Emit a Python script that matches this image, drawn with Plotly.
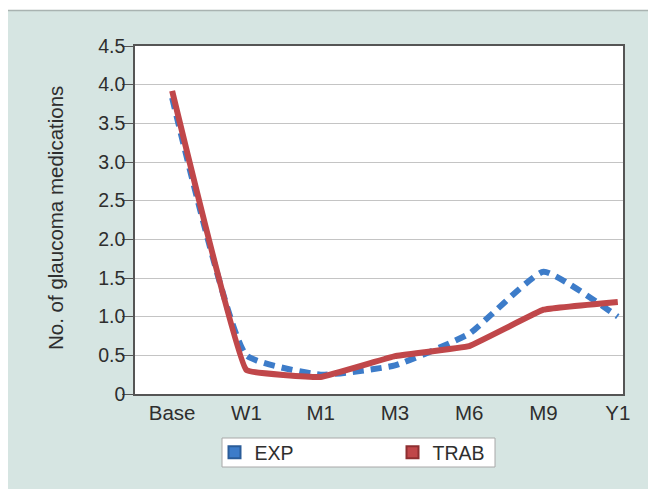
import plotly.graph_objects as go

categories = ["Base", "W1", "M1", "M3", "M6", "M9", "Y1"]
exp_values = [3.83, 0.50, 0.25, 0.37, 0.78, 1.58, 1.00]
trab_values = [3.92, 0.31, 0.22, 0.49, 0.62, 1.09, 1.19]
y_tickvals = [0, 0.5, 1.0, 1.5, 2.0, 2.5, 3.0, 3.5, 4.0, 4.5]
y_ticktext = ["0", "0.5", "1.0", "1.5", "2.0", "2.5", "3.0", "3.5", "4.0", "4.5"]

BLUE = "#3d7cc9"
RED = "#c0474a"
PANEL = "#d6e5e2"
FONT = "Liberation Sans, Arial, sans-serif"
TXT = "#2e2e2e"

# page body has an 8px margin; figure is sized to fit the window
OFF = 8
W, H = 656 - OFF, 489 - OFF
SL, ST, SR, SB = 135, 46, 623, 394          # plot area in window pixels
L, T = SL - OFF, ST - OFF
R, B = W - (SR - OFF), H - (SB - OFF)
pw, ph = SR - SL, SB - ST


def px(sx):
    return (sx - SL) / pw


def py(sy):
    return (SB - sy) / ph


fig = go.Figure()
fig.add_trace(go.Scatter(x=categories, y=exp_values, mode="lines", name="EXP",
                         line=dict(color=BLUE, width=6, dash="11px,7px", shape="spline", smoothing=0.4),
                         showlegend=False))
fig.add_trace(go.Scatter(x=categories, y=trab_values, mode="lines", name="TRAB",
                         line=dict(color=RED, width=6, shape="spline", smoothing=0.2),
                         showlegend=False))
# legend entries (square swatches)
fig.add_trace(go.Scatter(x=[None], y=[None], mode="markers", name="EXP",
                         marker=dict(symbol="square", size=13, color=BLUE,
                                     line=dict(color="#2a5c99", width=1))))
fig.add_trace(go.Scatter(x=[None], y=[None], mode="markers", name="TRAB",
                         marker=dict(symbol="square", size=13, color=RED,
                                     line=dict(color="#8e2f31", width=1))))

fig.update_layout(
    width=W, height=H,
    margin=dict(l=L, r=R, t=T, b=B, pad=0),
    paper_bgcolor=PANEL,
    plot_bgcolor="white",
    font=dict(family=FONT, size=19, color=TXT),
    xaxis=dict(type="category", range=[-0.5, 6.07], showgrid=False,
               showline=True, linecolor="#555555", linewidth=1.5, mirror=True,
               ticks="", tickfont=dict(size=20.5, color=TXT)),
    yaxis=dict(range=[0, 4.5], tickvals=y_tickvals, ticktext=y_ticktext,
               showgrid=True, gridcolor="#c4c4c4", gridwidth=1,
               showline=True, linecolor="#555555", linewidth=1.5, mirror=True,
               ticks="outside", ticklen=11, tickcolor="#555555",
               ticklabelstandoff=-7,
               tickfont=dict(size=19.5, color=TXT), zeroline=False),
    showlegend=True,
    legend=dict(orientation="h", x=px(214.5), xanchor="left", y=py(452.5), yanchor="middle",
                bgcolor="rgba(0,0,0,0)", borderwidth=0,
                font=dict(size=19.5, color=TXT),
                entrywidth=133, entrywidthmode="pixels", itemsizing="constant"),
    shapes=[
        dict(type="rect", xref="paper", yref="paper", x0=px(0), x1=px(700), y0=py(10.5), y1=py(0),
             fillcolor="white", line=dict(width=0), layer="below"),
        dict(type="line", xref="paper", yref="paper", x0=px(0), x1=px(700), y0=py(10.5), y1=py(10.5),
             line=dict(color="#a9b3b1", width=1.5), layer="below"),
        dict(type="rect", xref="paper", yref="paper", x0=px(222), x1=px(495), y0=py(467), y1=py(438),
             fillcolor="white", line=dict(color="#a8a8a8", width=1), layer="below"),
    ],
    annotations=[
        dict(text="No. of glaucoma medications", xref="paper", yref="paper",
             x=px(56), y=py(218), textangle=-90, showarrow=False,
             font=dict(size=20.5, color=TXT), xanchor="center", yanchor="middle"),
    ],
)

fig.write_html("out.html")
